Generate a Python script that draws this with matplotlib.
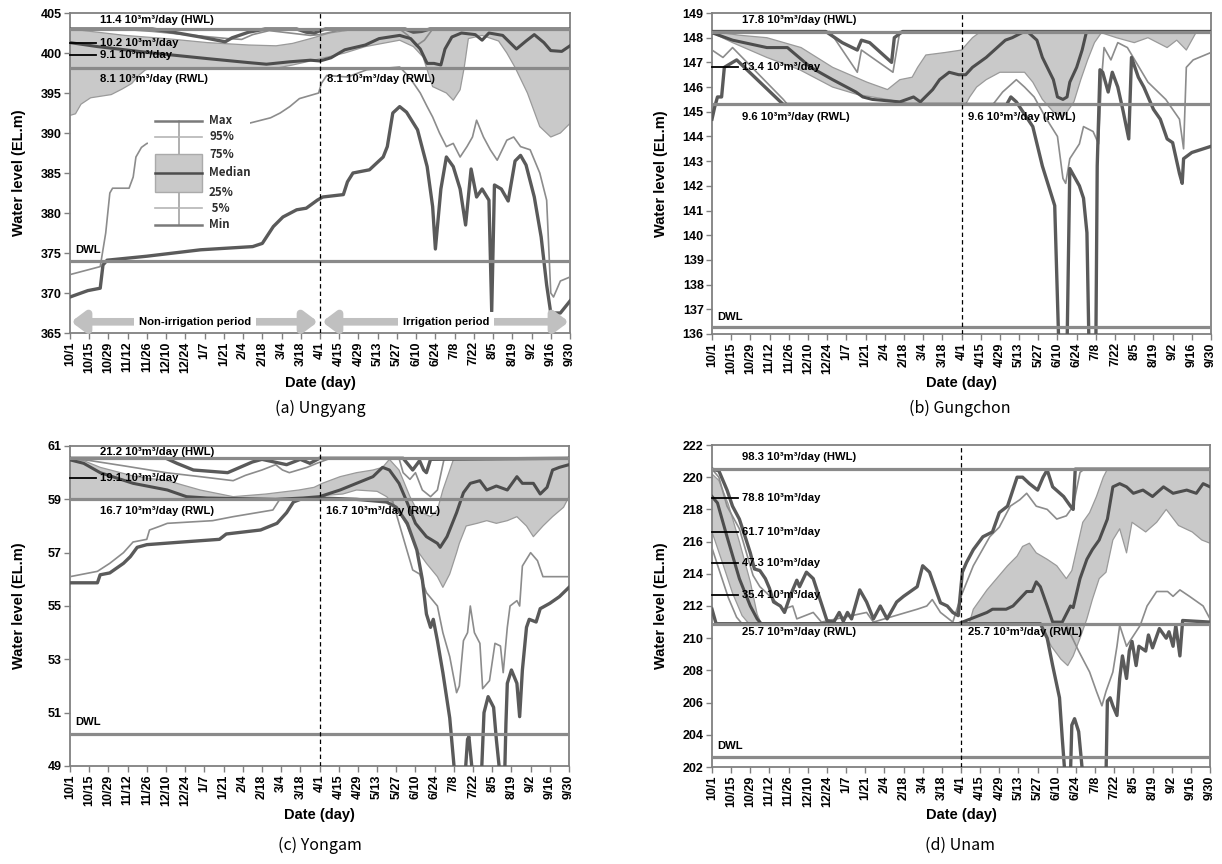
import numpy as np
import matplotlib
matplotlib.use("Agg")
import matplotlib.pyplot as plt
from matplotlib.patches import Rectangle

plt.rcParams['font.family'] = ['Liberation Sans', 'DejaVu Sans']

# ---------------- data ----------------
TICK_DAYS = list(range(0, 365, 14))
DATE_LABELS = ['10/1', '10/15', '10/29', '11/12', '11/26', '12/10', '12/24', '1/7', '1/21',
               '2/4', '2/18', '3/4', '3/18', '4/1', '4/15', '4/29', '5/13', '5/27', '6/10',
               '6/24', '7/8', '7/22', '8/5', '8/19', '9/2', '9/16', '9/30']
IRRIGATION_START = 182

# (a) Ungyang  (day, water level)
A_LEVELS = {'HWL': 403.0, 'RWL': 398.1, 'DWL': 374.0}
A_MAX = [(0, 403.0), (60, 403.0), (75, 402.6), (95, 402.0), (113, 401.4), (118, 401.9), (130, 402.6),
         (142, 403.0), (165, 403.0), (172, 402.6), (178, 402.5), (182, 402.8), (186, 403.0), (244, 403.0),
         (250, 402.6), (256, 402.7), (262, 403.0), (364, 403.0)]
A_P95 = [(0, 403.0), (35, 403.0), (60, 402.7), (90, 402.2), (115, 401.8), (125, 401.7), (133, 402.3),
         (145, 402.8), (160, 402.5), (175, 402.2), (182, 402.3), (195, 402.8), (205, 403.0), (240, 403.0),
         (246, 402.2), (252, 400.9), (258, 401.6), (264, 403.0), (364, 403.0)]
A_Q75 = [(0, 403.0), (15, 402.7), (40, 402.2), (70, 401.8), (100, 401.3), (130, 401.0), (150, 400.9),
         (162, 401.2), (175, 401.8), (189, 402.5), (205, 402.9), (215, 403.0), (364, 403.0)]
A_MED = [(0, 401.3), (20, 400.8), (60, 400.0), (100, 399.3), (130, 398.8), (143, 398.6), (160, 398.9),
         (175, 399.1), (182, 399.0), (190, 399.4), (200, 400.4), (215, 401.0), (225, 401.8), (240, 402.2),
         (248, 401.8), (255, 400.5), (260, 398.7), (265, 398.7), (270, 398.5), (273, 400.5), (278, 402.0),
         (285, 402.5), (295, 402.3), (300, 401.6), (305, 402.5), (315, 402.2), (325, 400.5), (332, 401.5),
         (338, 402.3), (345, 401.3), (350, 400.3), (358, 400.2), (364, 400.9)]
A_Q25 = [(0, 392.2), (4, 392.4), (8, 393.6), (15, 394.4), (30, 394.8), (38, 395.5), (45, 396.2),
         (50, 397.2), (55, 397.9), (60, 398.1), (150, 398.1), (162, 398.5), (175, 399.0), (190, 399.6),
         (200, 400.0), (215, 400.8), (240, 401.6), (250, 400.8), (257, 399.5), (264, 395.8), (274, 395.0),
         (279, 394.1), (284, 395.4), (287, 398.2), (290, 401.8), (300, 402.2), (312, 401.5), (318, 400.0),
         (324, 398.2), (333, 395.0), (342, 390.8), (350, 389.5), (357, 390.0), (364, 391.2)]
A_P5 = [(0, 372.3), (22, 373.3), (26, 377.5), (29, 382.5), (31, 383.1), (43, 383.1), (46, 384.5),
        (48, 387.0), (52, 388.2), (56, 388.7), (70, 388.9), (100, 390.0), (130, 391.2), (146, 391.9),
        (153, 392.5), (160, 393.3), (167, 394.3), (177, 394.8), (181, 395.0), (183, 396.2), (187, 397.2),
        (202, 397.0), (216, 397.9), (240, 398.25), (247, 397.0), (255, 395.0), (260, 393.3), (264, 392.0),
        (269, 390.0), (274, 388.3), (279, 388.7), (284, 387.0), (289, 388.3), (293, 389.5), (296, 391.6),
        (301, 389.5), (306, 387.9), (311, 386.6), (318, 389.1), (323, 389.5), (328, 388.3), (335, 387.9),
        (342, 385.0), (347, 381.6), (350, 370.0), (352, 369.5), (357, 371.5), (364, 372.0)]
A_MIN = [(0, 369.5), (13, 370.3), (22, 370.6), (24, 373.5), (27, 374.1), (56, 374.6), (95, 375.4),
         (133, 375.8), (140, 376.2), (148, 378.3), (155, 379.5), (165, 380.4), (172, 380.6), (180, 381.6),
         (184, 382.0), (199, 382.3), (202, 383.9), (206, 385.0), (218, 385.4), (228, 387.0), (231, 388.3),
         (235, 392.5), (240, 393.3), (245, 392.6), (253, 390.4), (260, 385.8), (264, 380.8), (266, 375.5),
         (270, 383.0), (274, 387.0), (279, 385.8), (284, 383.0), (288, 378.5), (292, 385.5), (296, 382.0),
         (300, 383.0), (305, 381.6), (307, 367.7), (309, 383.5), (314, 383.0), (319, 381.5), (324, 386.5),
         (328, 387.2), (332, 386.0), (338, 382.0), (343, 377.0), (347, 371.0), (350, 367.5), (357, 367.5),
         (364, 369.0)]

# (b) Gungchon
B_LEVELS = {'HWL': 148.25, 'RWL': 145.3, 'DWL': 136.3}
B_MAX = [(0, 148.25), (83, 148.25), (95, 147.8), (106, 147.5), (109, 147.9), (115, 147.8), (131, 147.0),
         (133, 148.0), (139, 148.25), (364, 148.25)]
B_P95 = [(0, 148.25), (86, 148.25), (106, 146.6), (109, 147.5), (132, 146.6), (137, 148.25), (364, 148.25)]
B_Q75 = [(0, 148.25), (20, 148.1), (40, 148.0), (65, 147.6), (88, 146.8), (113, 146.2), (128, 145.9),
         (137, 146.3), (146, 146.4), (150, 146.8), (156, 147.3), (170, 147.4), (182, 147.5), (190, 148.0),
         (196, 148.25), (364, 148.25)]
B_MED = [(0, 148.2), (15, 147.9), (40, 147.6), (55, 147.6), (72, 146.8), (88, 146.3), (105, 145.8),
         (110, 145.6), (117, 145.5), (137, 145.4), (147, 145.6), (152, 145.4), (161, 145.9), (166, 146.3),
         (173, 146.6), (180, 146.5), (185, 146.5), (190, 146.8), (200, 147.2), (208, 147.6), (214, 147.9),
         (219, 148.0), (226, 148.2), (230, 148.25), (237, 147.9), (241, 147.2), (249, 146.3), (252, 145.6),
         (256, 145.5), (259, 145.6), (261, 146.2), (266, 146.8), (270, 147.5), (273, 148.2), (275, 148.25),
         (364, 148.25)]
B_Q25 = [(0, 148.2), (15, 147.8), (40, 147.2), (64, 146.7), (88, 146.0), (106, 145.7), (128, 145.5),
         (137, 145.4), (145, 145.3), (185, 145.3), (188, 145.6), (193, 146.0), (200, 146.3), (210, 146.6),
         (228, 146.6), (234, 146.2), (241, 145.5), (249, 145.0), (256, 144.8), (259, 145.0), (264, 145.4),
         (269, 146.3), (274, 147.1), (279, 147.8), (284, 148.2), (295, 148.0), (308, 147.8), (318, 148.0),
         (332, 147.6), (339, 147.9), (346, 147.5), (353, 148.2), (364, 148.25)]
B_P5 = [(0, 147.5), (8, 147.2), (15, 147.6), (52, 145.5), (55, 145.3), (205, 145.3), (212, 145.8),
        (222, 146.3), (228, 146.0), (235, 145.6), (243, 144.8), (252, 144.0), (256, 142.3), (258, 142.1),
        (261, 143.1), (268, 143.7), (271, 144.4), (278, 144.2), (282, 143.7), (284, 146.2), (286, 147.6),
        (291, 147.1), (296, 147.8), (303, 147.6), (318, 146.2), (331, 145.5), (341, 144.7), (344, 143.5),
        (346, 146.8), (351, 147.1), (364, 147.4)]
B_MIN = [(0, 144.7), (2, 145.2), (4, 145.6), (7, 145.6), (9, 146.8), (15, 147.0), (18, 147.1), (50, 145.4),
         (52, 145.3), (215, 145.3), (218, 145.6), (222, 145.4), (234, 144.4), (241, 142.8), (250, 141.2),
         (253, 135.5), (259, 135.5), (261, 142.7), (268, 142.0), (271, 141.5), (273.5, 140.1), (275, 135.5),
         (280, 135.5), (281, 142.8), (283, 146.7), (285, 146.6), (289, 145.8), (292, 146.6), (296, 146.0),
         (300, 145.0), (304, 143.9), (306, 147.2), (311, 146.4), (315, 146.0), (322, 145.1), (327, 144.7),
         (332, 143.9), (336, 143.75), (341, 142.5), (343, 142.1), (344, 143.1), (350, 143.35), (364, 143.6)]

# (c) Yongam
C_LEVELS = {'HWL': 60.54, 'RWL': 59.0, 'DWL': 50.2}
C_MAX = [(0, 60.54), (70, 60.54), (78, 60.35), (90, 60.1), (115, 60.0), (124, 60.2), (133, 60.4),
         (140, 60.5), (158, 60.3), (168, 60.5), (175, 60.35), (182, 60.54), (243, 60.54), (250, 60.1),
         (255, 60.45), (258, 60.1), (260, 60.0), (263, 60.5), (364, 60.54)]
C_P95 = [(0, 60.54), (15, 60.45), (40, 60.25), (70, 60.0), (95, 59.85), (119, 59.7), (128, 59.9),
         (140, 60.1), (150, 60.3), (155, 60.1), (160, 60.0), (173, 60.2), (180, 60.35), (190, 60.54),
         (240, 60.54), (243, 60.0), (248, 59.75), (252, 60.0), (257, 59.35), (263, 59.1), (268, 59.35),
         (273, 60.54), (364, 60.54)]
C_Q75 = [(0, 60.54), (10, 60.45), (22, 60.2), (48, 59.85), (71, 59.7), (95, 59.35), (119, 59.1),
         (143, 59.2), (167, 59.35), (178, 59.45), (184, 59.6), (197, 59.85), (209, 60.0), (221, 60.1),
         (228, 60.2), (233, 60.5), (240, 60.1), (248, 59.1), (253, 58.6), (263, 58.35), (268, 58.6),
         (272, 59.35), (280, 60.54), (364, 60.54)]
C_MED = [(0, 60.48), (10, 60.35), (22, 60.0), (46, 59.6), (71, 59.35), (85, 59.1), (100, 59.05),
         (150, 59.0), (170, 59.05), (182, 59.1), (197, 59.35), (209, 59.6), (221, 59.85), (228, 60.2),
         (233, 60.1), (240, 59.6), (245, 59.0), (252, 58.1), (260, 57.6), (268, 57.35), (270, 57.2),
         (275, 57.6), (282, 58.5), (287, 59.25), (292, 59.6), (299, 59.7), (304, 59.35), (311, 59.5),
         (319, 59.35), (326, 59.85), (330, 59.6), (338, 59.6), (343, 59.2), (348, 59.45), (352, 60.1),
         (357, 60.2), (364, 60.3)]
C_Q25 = [(0, 59.0), (182, 59.0), (187, 59.15), (199, 59.2), (209, 59.35), (224, 59.3), (231, 59.1),
         (238, 58.7), (246, 58.0), (253, 57.1), (260, 56.6), (268, 56.1), (272, 55.7), (277, 56.2),
         (282, 57.0), (284, 57.35), (289, 58.0), (297, 58.1), (304, 58.2), (311, 58.1), (319, 58.2),
         (326, 58.35), (333, 58.0), (338, 57.6), (345, 58.0), (352, 58.35), (360, 58.7), (364, 59.1)]
C_P5 = [(0, 56.1), (20, 56.3), (29, 56.6), (39, 57.0), (46, 57.4), (56, 57.5), (58, 57.85), (66, 58.0),
        (71, 58.1), (104, 58.2), (119, 58.35), (148, 58.6), (153, 59.0), (235, 59.0), (240, 58.1),
        (250, 56.35), (255, 56.2), (260, 55.5), (268, 55.0), (272, 54.0), (277, 53.1), (282, 51.75),
        (284, 52.0), (287, 53.7), (290, 54.0), (292, 55.0), (295, 54.0), (299, 53.6), (301, 51.9),
        (306, 52.2), (310, 53.6), (314, 53.5), (316, 52.5), (319, 54.2), (321, 55.0), (326, 55.2),
        (328, 55.0), (330, 56.5), (336, 57.0), (341, 56.7), (345, 56.1), (364, 56.1)]
C_MIN = [(0, 55.87), (20, 55.87), (22, 56.17), (29, 56.24), (39, 56.6), (44, 56.85), (49, 57.2), (56, 57.3),
         (82, 57.4), (109, 57.5), (114, 57.7), (139, 57.85), (151, 58.1), (158, 58.5), (163, 58.9),
         (168, 59.0), (182, 59.05), (209, 59.0), (231, 58.9), (238, 58.7), (246, 58.1), (253, 57.1),
         (257, 56.0), (260, 54.7), (263, 54.2), (265, 54.5), (268, 53.7), (272, 52.5), (277, 50.8),
         (281, 48.5), (288, 48.5), (290, 50.0), (291, 50.1), (294, 48.5), (300, 48.5), (302, 51.0),
         (305, 51.6), (309, 51.2), (311, 50.0), (314, 48.5), (317, 48.5), (318, 50.6), (319, 52.1),
         (322, 52.6), (326, 52.1), (328, 50.85), (330, 52.6), (333, 54.2), (335, 54.5), (340, 54.4),
         (343, 54.9), (350, 55.1), (357, 55.35), (364, 55.7)]

# (d) Unam
D_LEVELS = {'HWL': 220.5, 'RWL': 210.9, 'DWL': 202.6}
D_MAX = [(0, 220.5), (5, 220.4), (11, 219.2), (15, 218.2), (20, 217.4), (25, 216.1), (28, 215.3),
         (31, 214.3), (35, 214.2), (39, 213.7), (42, 213.1), (45, 212.25), (50, 212.0), (53, 211.6),
         (57, 212.6), (62, 213.6), (64, 213.2), (69, 214.1), (74, 213.7), (79, 212.4), (84, 211.1),
         (89, 211.0), (93, 211.6), (96, 211.05), (99, 211.6), (102, 211.2), (108, 213.0), (113, 212.25),
         (118, 211.2), (123, 212.0), (128, 211.2), (135, 212.25), (140, 212.6), (145, 212.9), (150, 213.2),
         (154, 214.5), (159, 214.1), (164, 212.9), (167, 212.2), (172, 212.0), (176, 211.6), (180, 211.4),
         (183, 214.1), (186, 214.7), (191, 215.5), (198, 216.3), (205, 216.6), (210, 217.8), (216, 218.2),
         (223, 220.0), (227, 220.0), (232, 219.6), (238, 219.2), (242, 220.0), (245, 220.45), (249, 219.4),
         (257, 218.8), (262, 218.2), (264, 218.0), (265.5, 220.5), (364, 220.5)]
D_P95 = [(0, 220.5), (5, 220.0), (11, 218.2), (20, 216.8), (30, 213.9), (35, 213.2), (45, 212.4),
         (52, 211.8), (59, 212.0), (62, 211.2), (74, 211.6), (80, 211.0), (113, 211.6), (118, 211.0),
         (142, 211.6), (150, 211.8), (157, 212.0), (161, 212.4), (167, 211.6), (176, 211.0), (182, 212.6),
         (191, 214.5), (203, 216.3), (210, 216.9), (218, 218.2), (225, 218.6), (230, 219.0), (237, 218.2),
         (245, 218.0), (252, 217.4), (259, 217.6), (264, 218.2), (269, 220.3), (272, 220.5), (364, 220.5)]
D_Q75 = [(0, 220.2), (5, 219.8), (12, 218.3), (20, 216.0), (28, 213.5), (33, 211.5), (36, 210.9),
         (188, 210.9), (191, 211.8), (201, 213.0), (208, 213.7), (216, 214.5), (223, 215.1), (227, 215.7),
         (232, 215.9), (237, 215.3), (245, 214.9), (252, 214.5), (259, 213.7), (263, 214.2), (271, 217.2),
         (276, 217.8), (281, 218.8), (286, 220.0), (289, 220.5), (364, 220.5)]
D_MED = [(0, 218.8), (4, 218.4), (11, 216.3), (20, 213.7), (28, 212.0), (33, 211.2), (36, 210.9),
         (180, 210.9), (201, 211.6), (205, 211.8), (215, 211.8), (220, 212.0), (230, 212.9), (234, 212.9),
         (237, 213.5), (240, 213.2), (245, 212.0), (249, 211.0), (256, 211.0), (262, 212.0), (264, 211.9),
         (269, 213.7), (274, 214.9), (278, 215.5), (283, 216.1), (289, 217.4), (293, 219.4), (298, 219.6),
         (303, 219.4), (308, 219.0), (315, 219.2), (322, 218.8), (330, 219.4), (337, 219.0), (347, 219.2),
         (354, 219.0), (359, 219.6), (364, 219.4)]
D_Q25 = [(0, 216.6), (8, 214.6), (15, 212.8), (22, 211.4), (27, 210.9), (240, 210.9), (243, 210.4),
         (248, 209.5), (255, 208.7), (260, 208.3), (264, 208.9), (269, 210.0), (274, 211.2), (278, 212.4),
         (283, 213.7), (288, 214.1), (293, 216.1), (298, 216.8), (303, 215.3), (307, 217.2), (317, 216.6),
         (325, 217.2), (332, 218.0), (341, 217.0), (351, 216.6), (358, 216.1), (364, 215.9)]
D_P5 = [(0, 215.6), (5, 214.3), (12, 212.5), (18, 211.3), (22, 210.9), (238, 210.9), (259, 210.8),
        (268, 209.2), (276, 207.9), (281, 206.7), (285, 205.8), (288, 206.7), (293, 207.9), (296, 209.5),
        (298, 210.8), (303, 209.5), (313, 210.8), (318, 212.0), (325, 212.9), (333, 212.9), (337, 212.6),
        (342, 213.0), (349, 212.6), (359, 212.0), (364, 211.2)]
D_MIN = [(0, 211.8), (3, 210.9), (240, 210.9), (245, 210.0), (249, 208.3), (254, 206.3), (256, 203.8),
         (258, 201.5), (262, 201.5), (263, 204.6), (265, 205.0), (268, 204.2), (271, 201.5), (288, 201.5),
         (289, 206.1), (291, 206.3), (293, 205.8), (296, 205.2), (298, 207.5), (300, 208.9), (303, 207.5),
         (305, 209.2), (307, 209.8), (310, 208.3), (312, 209.5), (317, 209.2), (319, 210.2), (322, 209.4),
         (327, 210.6), (332, 210.0), (334, 210.4), (337, 209.5), (339, 210.8), (342, 208.9), (344, 211.1),
         (364, 211.0)]

# capacity annotations (text, level, has_tick)
A_NOTES = [('11.4 10³m³/day (HWL)', 404.1, False), ('10.2 10³m³/day', 401.3, True),
           ('9.1 10³m³/day', 399.7, True), ('8.1 10³m³/day (RWL)', 396.7, False)]
B_NOTES = [('17.8 10³m³/day (HWL)', 148.7, False), ('13.4 10³m³/day', 146.8, True),
           ('9.6 10³m³/day (RWL)', 144.8, False)]
C_NOTES = [('21.2 10³m³/day (HWL)', 60.78, False), ('19.1 10³m³/day', 59.8, True),
           ('16.7 10³m³/day (RWL)', 58.57, False)]
D_NOTES = [('98.3 10³m³/day (HWL)', 221.26, False), ('78.8 10³m³/day', 218.7, True),
           ('61.7 10³m³/day', 216.6, True), ('47.3 10³m³/day', 214.7, True),
           ('35.4 10³m³/day', 212.7, True), ('25.7 10³m³/day (RWL)', 210.4, False)]

LEGEND_LABELS = ['Max', '95%', '75%', 'Median', '25%', ' 5%', 'Min']

# ---------------- style ----------------
DARK = '#5a5a5a'
MEDC = '#4d4d4d'
THIN = '#8c8c8c'
FILL = '#c9c9c9'
EDGE = '#9a9a9a'
REF = '#8a8a8a'
SPINE = '#808080'
W, H = 1222, 864

fig = plt.figure(figsize=(W / 100, H / 100), dpi=100)


def rect(l, t, r, b):
    return [l / W, 1 - b / H, (r - l) / W, (b - t) / H]


def xy(pts):
    d, v = zip(*pts)
    return np.array(d, float), np.array(v, float)


def draw_panel(axr, series, levels, ylim, ystep, notes, dwl_y, caption, cap_xy, xlab_y):
    ax = fig.add_axes(rect(*axr))
    mx, p95, q75, med, q25, p5, mn = series
    x75, y75 = xy(q75)
    x25, y25 = xy(q25)
    ax.fill(np.concatenate([x75, x25[::-1]]), np.concatenate([y75, y25[::-1]]),
            color=FILL, lw=0, zorder=1)
    ax.plot(x75, y75, color=EDGE, lw=0.9, zorder=2)
    ax.plot(x25, y25, color=EDGE, lw=0.9, zorder=2)
    for s in (p95, p5):
        ax.plot(*xy(s), color=THIN, lw=1.2, zorder=3)
    for s in (mx, mn):
        ax.plot(*xy(s), color=DARK, lw=2.4, zorder=3, solid_joinstyle='round')
    ax.plot(*xy(med), color=MEDC, lw=2.2, zorder=3)
    for k, v in levels.items():
        ax.axhline(v, color=REF, lw=2.3, zorder=4)
    ax.axvline(IRRIGATION_START, color='black', lw=0.9, ls=(0, (3.5, 2.5)), zorder=5)

    ax.set_xlim(0, 364)
    ax.set_ylim(*ylim)
    ax.set_yticks(np.arange(ylim[0], ylim[1] + 0.001, ystep))
    ax.set_xticks(TICK_DAYS)
    ax.set_xticklabels(DATE_LABELS, rotation=90, fontsize=9, fontweight='bold')
    for lab in ax.get_yticklabels():
        lab.set_fontsize(9)
        lab.set_fontweight('bold')
    ax.tick_params(axis='both', direction='out', length=4, width=1, color=SPINE, pad=2)
    for sp in ax.spines.values():
        sp.set_color(SPINE)
        sp.set_linewidth(1.3)

    # notes
    for txt, yv, tick in notes:
        ax.text(22, yv, txt, fontsize=8.1, fontweight='bold', va='center', ha='left', zorder=6)
        if tick:
            ax.plot([0, 19], [yv, yv], color='black', lw=1.3, zorder=6, clip_on=False)
        if 'RWL' in txt:
            ax.text(187, yv, txt, fontsize=8.1, fontweight='bold', va='center', ha='left', zorder=6)
    ax.text(4, dwl_y, 'DWL', fontsize=8.1, fontweight='bold', va='center', ha='left', zorder=6)

    ax.set_ylabel('Water level (EL.m)', fontsize=10.5, fontweight='bold')
    ax.yaxis.set_label_coords(-0.088, 0.5)
    fig.text(((axr[0] + axr[2]) / 2) / W, 1 - xlab_y / H, 'Date (day)', fontsize=10.5,
             fontweight='bold', ha='center', va='center')
    fig.text(cap_xy[0] / W, 1 - cap_xy[1] / H, caption, fontsize=11.5, ha='center', va='center',
             family=['Noto Sans CJK KR', 'DejaVu Sans'])
    return ax


axA = draw_panel((70, 13, 570, 333), (A_MAX, A_P95, A_Q75, A_MED, A_Q25, A_P5, A_MIN), A_LEVELS,
                 (365, 405), 5, A_NOTES, 375.4, '(a) Ungyang', (320, 408), 383)
axB = draw_panel((712, 13, 1211, 334), (B_MAX, B_P95, B_Q75, B_MED, B_Q25, B_P5, B_MIN), B_LEVELS,
                 (136, 149), 1, B_NOTES, 136.7, '(b) Gungchon', (960, 408), 383)
axC = draw_panel((70, 446, 569, 766), (C_MAX, C_P95, C_Q75, C_MED, C_Q25, C_P5, C_MIN), C_LEVELS,
                 (49, 61), 2, C_NOTES, 50.66, '(c) Yongam', (320, 845), 815)
axD = draw_panel((712, 445, 1210, 767), (D_MAX, D_P95, D_Q75, D_MED, D_Q25, D_P5, D_MIN), D_LEVELS,
                 (202, 222), 2, D_NOTES, 203.3, '(d) Unam', (960, 845), 815)

# period arrows in (a)
arrow_y = 366.4
for x0, x1, label, xc in ((0.8, 180.5, 'Non-irrigation period', 91),
                          (183.5, 363.2, 'Irrigation period', 274)):
    axA.annotate('', xy=(x1, arrow_y), xytext=(x0, arrow_y),
                 arrowprops=dict(arrowstyle='<|-|>,head_length=0.8,head_width=0.6',
                                 color='#c0c0c0', lw=5.5, shrinkA=0, shrinkB=0), zorder=6)
    axA.text(xc, arrow_y, label, fontsize=8.1, fontweight='bold', ha='center', va='center', zorder=7,
             bbox=dict(facecolor='white', edgecolor='none', pad=3.5))

# legend (box-plot key) in (a)
lg = fig.add_axes(rect(148, 112, 250, 233))
lg.set_xlim(0, 102)
lg.set_ylim(233, 112)
lg.axis('off')
lg.set_zorder(10)
lg.add_patch(Rectangle((0, 112), 102, 121, facecolor='white', edgecolor='none', zorder=0))
ly = [121, 137, 154, 173, 192, 208, 225]
lg.plot([31, 31], [ly[0], ly[-1]], color='#9a9a9a', lw=1.1, zorder=1)
lg.add_patch(Rectangle((7, ly[2]), 47, ly[4] - ly[2], facecolor=FILL, edgecolor='#aaaaaa', lw=1, zorder=2))
lg.plot([7, 54], [ly[0], ly[0]], color='#7a7a7a', lw=1.8, zorder=3)
lg.plot([7, 54], [ly[1], ly[1]], color='#b5b5b5', lw=1.2, zorder=3)
lg.plot([7, 54], [ly[3], ly[3]], color=MEDC, lw=1.8, zorder=3)
lg.plot([7, 54], [ly[5], ly[5]], color='#b5b5b5', lw=1.2, zorder=3)
lg.plot([7, 54], [ly[6], ly[6]], color='#7a7a7a', lw=1.8, zorder=3)
for yv, lab in zip(ly, LEGEND_LABELS):
    lg.text(61, yv, lab, fontsize=8.3, fontweight='bold', color='#2e2e2e', va='center', ha='left',
            family=['Noto Sans CJK KR', 'DejaVu Sans'])

fig.savefig('out.png', dpi=100)
